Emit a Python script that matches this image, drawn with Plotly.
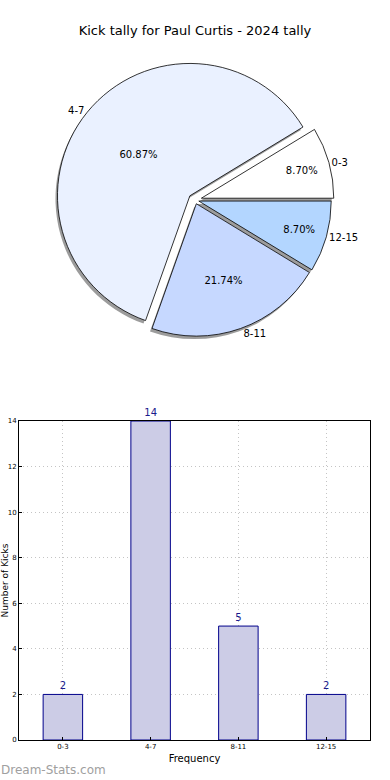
import plotly.graph_objects as go

categories = ["0-3", "4-7", "8-11", "12-15"]
counts = [2, 14, 5, 2]
pie_colors = ["#ffffff", "#eaf1ff", "#c6d8ff", "#b3d6ff"]
pulls = [0.05, 0.05, 0.03, 0.03]
title_text = "Kick tally for Paul Curtis - 2024 tally"
x_title = "Frequency"
y_title = "Number of Kicks"
y_ticks = [0, 2, 4, 6, 8, 10, 12, 14]

FONT = "DejaVu Sans"
H = 780.0
W = 390.0

# matplotlib-style start: first wedge begins at 3 o'clock, counterclockwise
rotation = 90 - 360.0 * counts[0] / sum(counts)

fig = go.Figure()

pie_dom = dict(x=[0.04, 0.96], y=[1 - 339 / H, 1 - 61 / H])
shadow_dom = dict(x=[pie_dom["x"][0] - 2 / W, pie_dom["x"][1] - 2 / W],
                  y=[pie_dom["y"][0] - 3 / H, pie_dom["y"][1] - 3 / H])

# shadow
fig.add_trace(go.Pie(
    labels=categories, values=counts, sort=False, direction="counterclockwise",
    rotation=rotation, pull=pulls, domain=shadow_dom,
    marker=dict(colors=["rgba(90,90,90,0.6)"] * 4, line=dict(width=0)),
    textinfo="none", showlegend=False, hoverinfo="skip",
))
# wedges with percentages inside
fig.add_trace(go.Pie(
    labels=categories, values=counts, sort=False, direction="counterclockwise",
    rotation=rotation, pull=pulls, domain=pie_dom,
    marker=dict(colors=pie_colors, line=dict(color="#000000", width=0.8)),
    texttemplate="%{percent:.2%}", textposition="inside", insidetextorientation="horizontal",
    textfont=dict(family=FONT, size=10, color="#000000"),
    showlegend=False, hoverinfo="label+value+percent",
))
# category labels outside
fig.add_trace(go.Pie(
    labels=categories, values=counts, sort=False, direction="counterclockwise",
    rotation=rotation, pull=pulls, domain=pie_dom,
    marker=dict(colors=["rgba(0,0,0,0)"] * 4, line=dict(width=0)),
    texttemplate="%{label}", textposition="outside",
    textfont=dict(family=FONT, size=10, color="#000000"),
    showlegend=False, hoverinfo="skip",
))

fig.add_trace(go.Bar(
    x=categories, y=counts, width=0.45,
    marker=dict(color="#cccce6", line=dict(color="#00008b", width=1)),
    text=[str(c) for c in counts], textposition="outside",
    textfont=dict(family=FONT, size=10, color="#1a1a8c"),
    cliponaxis=False, showlegend=False, xaxis="x", yaxis="y",
))

grid_style = dict(showgrid=True, gridcolor="#c4c4c4", griddash="1px,3px", gridwidth=1)

fig.update_layout(
    width=390, height=780,
    margin=dict(l=0, r=0, t=0, b=0, autoexpand=False),
    paper_bgcolor="white", plot_bgcolor="white",
    font=dict(family=FONT, color="#000000"),
    title=dict(text=title_text, x=0.5, xanchor="center", xref="paper",
               y=1 - 30 / H, yanchor="middle", yref="container",
               font=dict(family=FONT, size=13, color="#000000")),
    xaxis=dict(domain=[19 / W, 370 / W], anchor="y", range=[-0.5, 3.5], automargin=False,
               showline=True, linecolor="#000000", linewidth=1, mirror=True,
               ticks="inside", ticklen=3, tickcolor="#000000",
               tickfont=dict(family=FONT, size=7), **grid_style,
               title=dict(text=x_title, font=dict(family=FONT, size=10), standoff=4)),
    yaxis=dict(domain=[1 - 740 / H, 1 - 421 / H], anchor="x", range=[0, 14], automargin=False,
               tickvals=y_ticks, zeroline=False,
               showline=True, linecolor="#000000", linewidth=1, mirror=True,
               ticks="inside", ticklen=3, tickcolor="#000000",
               tickfont=dict(family=FONT, size=7), **grid_style,
               title=dict(text=y_title, font=dict(family=FONT, size=9), standoff=6)),
    annotations=[dict(text="Dream-Stats.com", xref="paper", yref="paper", x=-0.003, y=1 - 770 / H,
                      xanchor="left", yanchor="middle", showarrow=False,
                      font=dict(family=FONT, size=12, color="#a0a0a0"))],
)

fig.write_html("out.html", config={"displayModeBar": False},
               post_script="document.body.style.margin='0';")
